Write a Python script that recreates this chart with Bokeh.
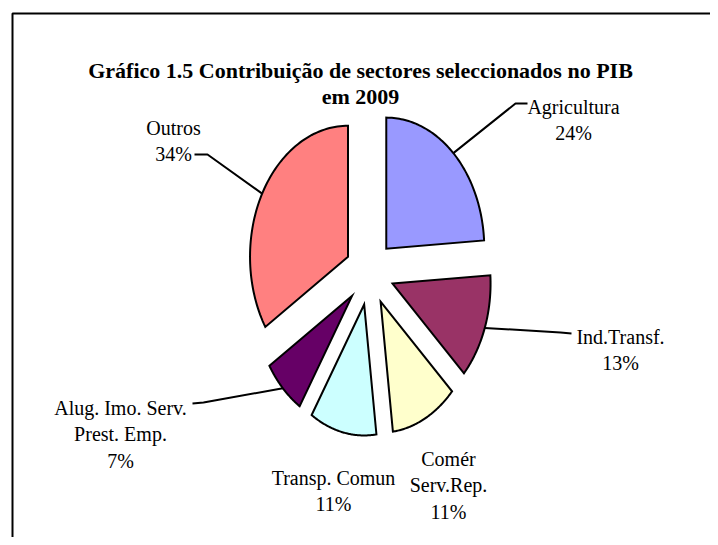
import numpy as np
from bokeh.plotting import figure
from bokeh.models import Range1d, ColumnDataSource
from bokeh.embed import file_html
from bokeh.resources import INLINE
from bokeh.core.properties import value

# ---------------- data ----------------
categories = ["Agricultura", "Ind.Transf.", "Comér Serv.Rep.", "Transp. Comun",
              "Alug. Imo. Serv. Prest. Emp.", "Outros"]
label_lines = [["Agricultura"], ["Ind.Transf."], ["Comér", "Serv.Rep."],
               ["Transp. Comun"], ["Alug. Imo. Serv.", "Prest. Emp."], ["Outros"]]
shares = [24, 13, 11, 11, 7, 34]
colors = ["#9999FF", "#993366", "#FFFFCC", "#CCFFFF", "#660066", "#FF8080"]
title_lines = ["Gráfico 1.5 Contribuição de sectores seleccionados no PIB", "em 2009"]

# ---------------- layout ----------------
W, H = 710, 537
CX, CY = 369, 272          # pie centre (pixels)
RX, RY = 98, 131           # elliptical radii
EXPLODE = 0.25
FONT = "Liberation Serif"
LABEL_SIZE = "20px"
LINE_PITCH = 26.5
# label anchor: (centre x, first baseline y)
label_pos = [(573, 106), (620, 336), (448, 458), (333, 477), (120, 407), (173, 127)]
# leader: (elbow, end) or None
leaders = [((515, 103), (527, 103)),
           ((560, 332), (571, 333)),
           None,
           None,
           ((203, 402), (192, 403)),
           ((207, 154), (194, 154))]

p = figure(width=W, height=H, output_backend="svg", toolbar_location=None,
           x_range=Range1d(0, W), y_range=Range1d(H, 0),
           min_border=0)
p.axis.visible = False
p.grid.visible = False
p.outline_line_color = None
p.background_fill_color = "white"
p.border_fill_color = "white"

# chart-area frame (extends past the window on right/bottom)
p.quad(left=[12], right=[800], top=[13], bottom=[700], fill_color=None,
       line_color="black", line_width=2)

# title
for i, t in enumerate(title_lines):
    p.text(x=[360], y=[70 + 26 * i], text=[t], text_align="center",
           text_baseline="alphabetic", text_font=value(FONT),
           text_font_size="22px", text_font_style="bold", text_color="black")

# pie slices
total = float(sum(shares))
cum = np.cumsum([0] + shares) / total * 2 * np.pi
xs, ys, mids = [], [], []
for i in range(len(shares)):
    a0, a1 = cum[i], cum[i + 1]
    m = 0.5 * (a0 + a1)
    ax = CX + EXPLODE * RX * np.sin(m)
    ay = CY - EXPLODE * RY * np.cos(m)
    t = np.linspace(a0, a1, 80)
    px = np.concatenate([[ax], ax + RX * np.sin(t)])
    py = np.concatenate([[ay], ay - RY * np.cos(t)])
    xs.append(list(px))
    ys.append(list(py))
    mids.append((ax + RX * np.sin(m), ay - RY * np.cos(m)))

src = ColumnDataSource(dict(xs=xs, ys=ys, color=colors, cat=categories, share=shares))
p.patches("xs", "ys", source=src, fill_color="color", line_color="black",
          line_width=2, line_join="miter")

# leader lines
for i, ld in enumerate(leaders):
    if ld is None:
        continue
    (ex, ey), (tx, ty) = ld
    mx, my = mids[i]
    p.line(x=[mx, ex, tx], y=[my, ey, ty], line_color="black", line_width=2)

# data labels
for i, lines in enumerate(label_lines):
    x0, y0 = label_pos[i]
    all_lines = lines + [f"{shares[i]}%"]
    for j, s in enumerate(all_lines):
        p.text(x=[x0], y=[y0 + LINE_PITCH * j], text=[s], text_align="center",
               text_baseline="alphabetic", text_font=value(FONT),
               text_font_size=LABEL_SIZE, text_color="black")

open("out.html", "w").write(file_html(p, INLINE))
